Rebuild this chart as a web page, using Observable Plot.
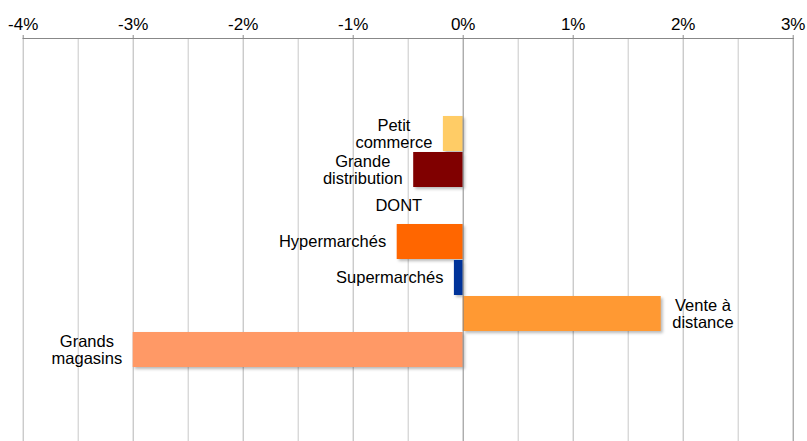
<!DOCTYPE html>
<html>
<head>
<meta charset="utf-8">
<script src="https://cdn.jsdelivr.net/npm/d3@7"></script>
<script src="https://cdn.jsdelivr.net/npm/@observablehq/plot@0.6"></script>
<style>
  html, body { margin: 0; padding: 0; background: #fff; }
  .bars rect { filter: drop-shadow(2px 2px 1.5px rgba(0,0,0,0.28)); }
</style>
</head>
<body>
<div id="chart"></div>
<script>
const categories = ["Petit commerce", "Grande distribution", "DONT", "Hypermarchés", "Supermarchés", "Vente à distance", "Grands magasins"];
const labels = ["Petit\ncommerce", "Grande\ndistribution", "DONT", "Hypermarchés", "Supermarchés", "Vente à\ndistance", "Grands\nmagasins"];
const values = [-0.18, -0.45, null, -0.6, -0.08, 1.8, -3.0];
const colors = ["#FFCC66", "#800000", null, "#FF6600", "#003399", "#FF9933", "#FF9966"];
const tickValues = [-4, -3, -2, -1, 0, 1, 2, 3];
const gridValues = [-4, -3.5, -3, -2.5, -2, -1.5, -1, -0.5, 0, 0.5, 1, 1.5, 2, 2.5, 3];

const data = categories.map((c, i) => ({category: c, label: labels[i], value: values[i], color: colors[i]}));
const bars = data.filter(d => d.value != null);
const yDomain = ["pad0", "pad1", ...categories, "pad2", "pad3"];

const chart = Plot.plot({
  width: 807,
  height: 441,
  marginTop: 38,
  marginBottom: 0,
  marginLeft: 22.7,
  marginRight: 14.3,
  style: {fontFamily: "'Liberation Sans', Arial, sans-serif", background: "#fff"},
  x: {domain: [-4, 3], axis: null, label: null},
  y: {domain: yDomain, range: [40.5, 443], paddingInner: 0.03, paddingOuter: 0, axis: null, label: null},
  color: {type: "identity"},
  marks: [
    Plot.ruleX(gridValues.filter(v => !Number.isInteger(v)), {stroke: "#c8c8c8", strokeWidth: 1}),
    Plot.ruleX(gridValues.filter(v => Number.isInteger(v) && v !== 0 && v !== 3), {stroke: "#b4b4b4", strokeWidth: 1}),
    Plot.barX(bars, {x: "value", y: "category", fill: "color", className: "bars"}),
    Plot.ruleX([0, 3], {stroke: "#888", strokeWidth: 1}),
    Plot.frame({anchor: "top", stroke: "#888", strokeWidth: 1}),
    Plot.axisX(tickValues, {anchor: "top", label: null, tickSize: 4, tickPadding: 5, tickFormat: d => `${d}%`, fontSize: 17, stroke: "#888", fill: "#000"}),
    Plot.text(data, {x: d => d.value ?? 0, y: "category", text: "label", textAnchor: "middle", fontSize: 16.5, lineHeight: 1, fill: "#000", className: "labels"})
  ]
});

document.getElementById("chart").appendChild(chart);

// place each label beside its bar end, lines centred within the block
const labelNodes = chart.querySelectorAll(".labels text");
labelNodes.forEach((node, i) => {
  const d = data[i];
  const w = node.getBBox().width;
  const gap = d.value == null ? 41 : 11;
  const sign = d.value != null && d.value > 0 ? 1 : -1;
  const shift = sign * (w / 2 + gap);
  const t = node.getAttribute("transform") || "";
  node.setAttribute("transform", `${t} translate(${shift},0)`);
});
</script>
</body>
</html>
